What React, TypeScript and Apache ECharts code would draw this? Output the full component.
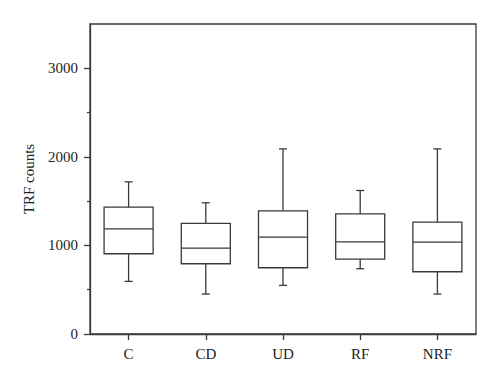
import React, { useEffect, useRef } from "react";
import * as echarts from "echarts";

const categories = ["C", "CD", "UD", "RF", "NRF"];
const whiskerLow = [594, 451, 549, 737, 451];
const q1 = [906, 793, 748, 846, 703];
const median = [1188, 970, 1094, 1041, 1038];
const q3 = [1432, 1248, 1391, 1357, 1263];
const whiskerHigh = [1718, 1481, 2090, 1620, 2090];
const majorTicks = [0, 1000, 2000, 3000];
const minorTicks = [500, 1500, 2500];

const LINE = "#3a3a3a";
const FONT = "'Liberation Serif', 'DejaVu Serif', serif";

export default function App() {
  const ref = useRef<HTMLDivElement>(null);
  useEffect(() => {
    if (!ref.current) return;
    const chart = echarts.init(ref.current, undefined, { renderer: "svg" });
    const data = categories.map((_, i) => [i, whiskerLow[i], q1[i], median[i], q3[i], whiskerHigh[i]]);
    const lineStyle = { stroke: LINE, lineWidth: 1.3, fill: "none" };
    chart.setOption({
      animation: false,
      grid: {
        left: 90,
        right: 24,
        top: 24,
        bottom: 49,
        show: true,
        borderColor: LINE,
        borderWidth: 1.3,
        backgroundColor: "transparent",
      },
      xAxis: {
        type: "category",
        data: categories,
        boundaryGap: true,
        axisLine: { lineStyle: { color: LINE, width: 1.3 } },
        axisTick: { show: true, alignWithLabel: true, length: 6, inside: false, lineStyle: { color: LINE, width: 1.3 } },
        axisLabel: { color: "#222", fontFamily: FONT, fontSize: 15, margin: 12 },
        splitLine: { show: false },
      },
      yAxis: [
        {
          type: "value",
          min: 0,
          max: 3500,
          interval: 500,
          name: "TRF counts",
          nameLocation: "middle",
          nameGap: 54,
          nameRotate: 90,
          nameTextStyle: { color: "#222", fontFamily: FONT, fontSize: 15 },
          axisLine: { show: true, lineStyle: { color: LINE, width: 1.3 } },
          axisTick: { show: true, length: 6, customValues: majorTicks, lineStyle: { color: LINE, width: 1.3 } },
          axisLabel: {
            color: "#222",
            fontFamily: FONT,
            fontSize: 15,
            margin: 12,
            customValues: majorTicks,
            formatter: (v: number) => String(v),
          },
          splitLine: { show: false },
        },
        {
          type: "value",
          min: 0,
          max: 3500,
          interval: 500,
          position: "left",
          offset: 0,
          axisLine: { show: false },
          axisTick: { show: true, length: 3, customValues: minorTicks, lineStyle: { color: LINE, width: 1.3 } },
          axisLabel: { show: false },
          splitLine: { show: false },
        },
      ],
      series: [
        {
          type: "custom",
          data,
          encode: { x: 0, y: [1, 2, 3, 4, 5] },
          renderItem: (params: any, api: any) => {
            const idx = api.value(0);
            const lo = api.coord([idx, api.value(1)]);
            const b1 = api.coord([idx, api.value(2)]);
            const md = api.coord([idx, api.value(3)]);
            const b3 = api.coord([idx, api.value(4)]);
            const hi = api.coord([idx, api.value(5)]);
            const band = api.size([1, 0])[0];
            const half = (band * 0.635) / 2;
            const cap = 4;
            const cx = lo[0];
            return {
              type: "group",
              children: [
                { type: "line", shape: { x1: cx, y1: hi[1], x2: cx, y2: b3[1] }, style: lineStyle },
                { type: "line", shape: { x1: cx, y1: b1[1], x2: cx, y2: lo[1] }, style: lineStyle },
                { type: "line", shape: { x1: cx - cap, y1: hi[1], x2: cx + cap, y2: hi[1] }, style: lineStyle },
                { type: "line", shape: { x1: cx - cap, y1: lo[1], x2: cx + cap, y2: lo[1] }, style: lineStyle },
                {
                  type: "rect",
                  shape: { x: cx - half, y: b3[1], width: half * 2, height: b1[1] - b3[1] },
                  style: lineStyle,
                },
                { type: "line", shape: { x1: cx - half, y1: md[1], x2: cx + half, y2: md[1] }, style: lineStyle },
              ],
            };
          },
        },
      ],
    });
    return () => chart.dispose();
  }, []);
  return <div ref={ref} style={{ width: 500, height: 383, position: "absolute", left: 0, top: 0 }} />;
}
